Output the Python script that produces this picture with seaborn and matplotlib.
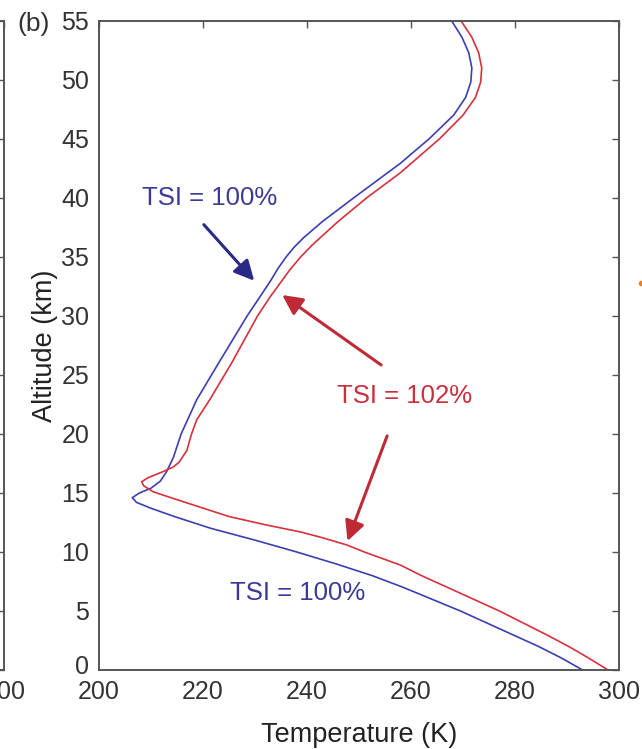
import matplotlib
matplotlib.use("Agg")
import matplotlib.pyplot as plt
import matplotlib.transforms as mtransforms
import seaborn as sns
import pandas as pd
from matplotlib.lines import Line2D

sns.set_theme(style="white")
plt.rcParams['font.family'] = ['Liberation Sans', 'DejaVu Sans']

# TSI = 100% profile (blue)
alt_100 = [0, 1, 2, 3, 4, 5, 6, 7, 8, 9, 10, 11, 12, 13, 13.7, 14.2, 14.6, 15.0, 15.4,
           16.0, 16.8, 18.0, 20.0, 22.9, 26.0, 30.0, 32.9, 34.0, 35.0, 35.8, 36.6, 38.0,
           40.0, 42.9, 45.0, 47.0, 48.5, 49.8, 51.0, 52.3, 53.6, 55.0]
temp_100 = [293.0, 289.0, 284.5, 279.5, 274.5, 269.5, 264.0, 258.5, 252.5, 245.5, 238.0,
            230.0, 221.5, 214.5, 210.0, 207.2, 206.4, 207.8, 210.0, 211.8, 213.0, 214.3,
            215.8, 218.8, 223.0, 228.5, 232.9, 234.4, 236.0, 237.5, 239.3, 243.0, 249.0,
            257.9, 263.5, 268.2, 270.5, 271.5, 271.7, 271.1, 269.8, 267.8]

# TSI = 102% profile (red)
alt_102 = [0, 1, 2, 3, 4, 5, 6, 7, 8, 8.9, 10.0, 10.6, 11.2, 11.7, 12.3, 13.0, 13.8, 14.5,
           15.1, 15.6, 15.95, 16.3, 16.8, 17.2, 17.6, 18.6, 20.0, 21.2, 22.9, 26.0, 30.0,
           31.6, 33.9, 35.0, 36.0, 38.0, 40.0, 42.1, 45.0, 47.0, 48.5, 49.8, 51.0, 52.3,
           53.6, 55.0]
temp_102 = [297.9, 294.2, 290.3, 286.0, 281.5, 277.0, 272.0, 267.0, 262.0, 257.9, 251.0,
            247.6, 243.0, 238.7, 232.0, 225.0, 219.4, 214.5, 210.4, 208.6, 208.2, 209.5,
            212.3, 214.3, 215.4, 216.9, 217.8, 218.8, 221.3, 225.5, 230.5, 232.9, 236.7,
            238.8, 241.0, 246.0, 251.5, 257.9, 265.5, 270.0, 272.4, 273.4, 273.6, 273.0,
            271.7, 269.6]

x_ticks = [200, 220, 240, 260, 280, 300]
y_ticks = [0, 5, 10, 15, 20, 25, 30, 35, 40, 45, 50, 55]

BLUE = "#3b3fb0"
RED = "#d8303c"
NAVY = "#2a2a86"
TXT_BLUE = "#3a3a96"
TXT_RED = "#c8303e"
SPINE = "#555555"

W, H = 642, 749
fig = plt.figure(figsize=(W / 100, H / 100), dpi=100)

def style_axes(ax):
    for s in ax.spines.values():
        s.set_visible(True)
        s.set_color(SPINE)
        s.set_linewidth(1.4)
    ax.tick_params(direction="in", length=5, width=1.0, color=SPINE,
                   top=True, right=True, labelsize=18, labelcolor="#333333", pad=7)

# partial left panel (cropped)
ax0 = fig.add_axes([(4 - 520) / W, (H - 670) / H, 520 / W, (670 - 20.7) / H])
ax0.set_xlim(200, 300)
ax0.set_ylim(0, 55)
ax0.set_xticks(x_ticks)
ax0.set_yticks(y_ticks)
style_axes(ax0)
ax0.set_yticklabels([])
ax0.set_xticklabels(["" for _ in x_ticks[:-1]] + [str(x_ticks[-1])])

# main panel
ax = fig.add_axes([99 / W, (H - 670) / H, 520 / W, (670 - 20.7) / H])
df100 = pd.DataFrame({"T": temp_100, "z": alt_100})
df102 = pd.DataFrame({"T": temp_102, "z": alt_102})
sns.lineplot(data=df100, x="T", y="z", sort=False, estimator=None, color=BLUE, lw=1.2, ax=ax)
sns.lineplot(data=df102, x="T", y="z", sort=False, estimator=None, color=RED, lw=1.2, ax=ax)
ax.set_xlim(200, 300)
ax.set_ylim(0, 55)
ax.set_xticks(x_ticks)
ax.set_yticks(y_ticks)
style_axes(ax)
ax.set_xlabel("Temperature (K)", fontsize=19.5, color="#222222", labelpad=13)
ax.set_ylabel("Altitude (km)", fontsize=19.5, color="#222222", labelpad=2)

# lift the "0" y tick label slightly, as in the reference
lbl0 = ax.get_yticklabels()[0]
lbl0.set_transform(lbl0.get_transform() +
                   mtransforms.ScaledTranslation(0, 6 / 100, fig.dpi_scale_trans))

# annotations
ax.text(221.2, 40.0, "TSI = 100%", color=TXT_BLUE, fontsize=18.5, ha="center", va="center")
ax.annotate("", xy=(230.2, 32.8), xytext=(219.8, 37.9),
            arrowprops=dict(arrowstyle="-|>,head_length=1.0,head_width=0.5", color=NAVY, lw=2.2))
ax.text(258.7, 23.2, "TSI = 102%", color=TXT_RED, fontsize=18.5, ha="center", va="center")
ax.annotate("", xy=(234.8, 31.9), xytext=(254.7, 25.7),
            arrowprops=dict(arrowstyle="-|>,head_length=1.0,head_width=0.5", color="#c02a36", lw=2.2))
ax.annotate("", xy=(247.6, 10.7), xytext=(255.6, 20.05),
            arrowprops=dict(arrowstyle="-|>,head_length=1.0,head_width=0.5", color="#c02a36", lw=2.2))
ax.text(238.2, 6.5, "TSI = 100%", color=TXT_BLUE, fontsize=18.5, ha="center", va="center")

fig.text(17 / W, 1 - 24 / H, "(b)", fontsize=19, color="#333333", ha="left", va="center")
fig.add_artist(Line2D([640.5 / W], [1 - 283 / H], marker="o", markersize=3,
                      color="#e8822a", transform=fig.transFigure))

fig.savefig("out.png", dpi=100)
